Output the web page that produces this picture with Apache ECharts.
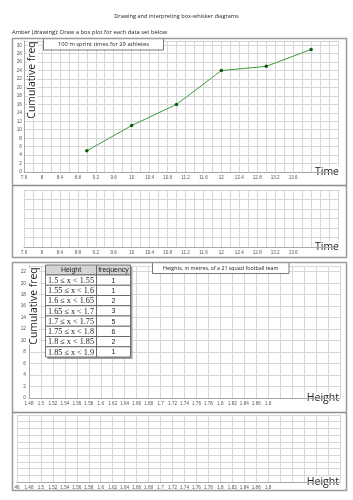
<!DOCTYPE html>
<html>
<head>
<meta charset="utf-8">
<title>Drawing and interpreting box-whisker diagrams</title>
<script src="https://cdn.jsdelivr.net/npm/echarts@6/dist/echarts.min.js"></script>
<style>
  html, body { margin: 0; padding: 0; background: #fff; }
  #chart { width: 353px; height: 500px; }
</style>
</head>
<body>
<div id="chart"></div>
<script>
// 100 m sprint times - cumulative frequency points
const sprintTimes = [9, 10, 11, 12, 13, 14]
const sprintCumFreq = [5, 11, 16, 24, 25, 29]
const timeTicks = [7.6, 8, 8.4, 8.8, 9.2, 9.6, 10, 10.4, 10.8, 11.2, 11.6, 12, 12.4, 12.8, 13.2, 13.6]
const cumFreqTicks = [0, 2, 4, 6, 8, 10, 12, 14, 16, 18, 20, 22, 24, 26, 28, 30]

// heights of the football squad
const heightClasses = ['1.5 ≤ x < 1.55', '1.55 ≤ x < 1.6', '1.6 ≤ x < 1.65', '1.65 ≤ x < 1.7',
  '1.7 ≤ x < 1.75', '1.75 ≤ x < 1.8', '1.8 ≤ x < 1.85', '1.85 ≤ x < 1.9']
const heightFreq = [1, 1, 2, 3, 5, 6, 2, 1]
const heightTickValues = [1.46, 1.48, 1.5, 1.52, 1.54, 1.56, 1.58, 1.6, 1.62, 1.64, 1.66, 1.68,
  1.7, 1.72, 1.74, 1.76, 1.78, 1.8, 1.82, 1.84, 1.86, 1.88]
const heightTickLabels = ['46', '1.48', '1.5', '1.52', '1.54', '1.56', '1.58', '1.6', '1.62', '1.64', '1.66', '1.68',
  '1.7', '1.72', '1.74', '1.76', '1.78', '1.8', '1.82', '1.84', '1.86', '1.8']
const heightCumTicks = [0, 2, 4, 6, 8, 10, 12, 14, 16, 18, 20, 22]

const chart = echarts.init(document.getElementById('chart'), null, { renderer: 'canvas' })

// show a label only where the picture has one
function labelFrom(values, texts) {
  return function (v) {
    for (let i = 0; i < values.length; i++) {
      if (Math.abs(values[i] - v) < 1e-6) return texts ? texts[i] : String(values[i])
    }
    return ''
  }
}

const gridLine = { show: true, lineStyle: { color: '#d6d6d6', width: 1 } }
const axisLineStyle = { show: true, onZero: false, lineStyle: { color: '#a8a8a8', width: 1 } }
const tickFont = { fontSize: 4.6, color: '#555', fontFamily: 'Liberation Sans, Arial, sans-serif' }
const nameFont = { fontSize: 10.5, color: '#222', fontFamily: 'Open Sans, sans-serif', backgroundColor: '#fff', align: 'right', verticalAlign: 'middle', padding: [0, 1, 0, 2] }

function timeAxis(gridIndex) {
  return {
    type: 'value', gridIndex: gridIndex, min: 7.6, max: 14.6, interval: 0.2,
    axisLine: axisLineStyle, axisTick: { show: false }, splitLine: gridLine,
    axisLabel: Object.assign({ margin: 3, formatter: labelFrom(timeTicks), showMinLabel: true, showMaxLabel: true }, tickFont),
    name: 'Time', nameLocation: 'end', nameGap: 2, nameTextStyle: nameFont
  }
}

function heightAxis(gridIndex, min) {
  return {
    type: 'value', gridIndex: gridIndex, min: min, max: 2.0, interval: 0.02,
    axisLine: axisLineStyle, axisTick: { show: false }, splitLine: gridLine,
    axisLabel: Object.assign({ margin: 3, formatter: labelFrom(heightTickValues, heightTickLabels), showMinLabel: true, showMaxLabel: true }, tickFont),
    name: 'Height', nameLocation: 'end', nameGap: 0, nameTextStyle: nameFont
  }
}

function blankY(gridIndex, max) {
  return {
    type: 'value', gridIndex: gridIndex, min: 0, max: max, interval: 1,
    axisLine: { show: false }, axisTick: { show: false }, axisLabel: { show: false },
    splitLine: gridLine
  }
}

// frequency table drawn as graphic cells
function tableGraphic() {
  const x0 = 45.5, y0 = 265, w = [51, 34], headH = 10, rowH = 10.25
  const totalH = headH + rowH * heightClasses.length
  const kids = [
    { type: 'rect', z: 50, shape: { x: x0 + 2, y: y0 + 2, width: w[0] + w[1], height: totalH }, style: { fill: '#a0a0a0' } }
  ]
  const rows = [['Height', 'frequency']].concat(heightClasses.map((c, i) => [c, String(heightFreq[i])]))
  rows.forEach((r, i) => {
    const y = i === 0 ? y0 : y0 + headH + (i - 1) * rowH
    const h = i === 0 ? headH : rowH
    let x = x0
    r.forEach((txt, j) => {
      kids.push({ type: 'rect', z: 51, shape: { x: x, y: y, width: w[j], height: h },
        style: { fill: i === 0 ? '#d4d4d4' : '#fff', stroke: '#555', lineWidth: 0.8 } })
      const serif = i > 0 && j === 0
      kids.push({ type: 'text', z: 52, x: x + w[j] / 2, y: y + h / 2 + 0.5,
        style: { text: txt, align: 'center', verticalAlign: 'middle', fill: '#222',
          fontSize: serif ? 8.2 : 7, fontFamily: serif ? 'Liberation Serif, DejaVu Serif, serif' : 'Liberation Sans, Arial, sans-serif' } })
      x += w[j]
    })
  })
  return { type: 'group', z: 50, children: kids }
}

function labelBox(x, y, width, height, text, size) {
  return { type: 'group', z: 50, children: [
    { type: 'rect', z: 51, shape: { x: x, y: y, width: width, height: height }, style: { fill: '#fff', stroke: '#555', lineWidth: 0.8 } },
    { type: 'text', z: 52, x: x + width / 2, y: y + height / 2 + 0.3,
      style: { text: text, align: 'center', verticalAlign: 'middle', fill: '#222', fontSize: size, fontFamily: 'Open Sans, sans-serif' } }
  ] }
}

function yName(x, y) {
  return { type: 'text', z: 40, x: x, y: y, rotation: Math.PI / 2,
    style: { text: 'Cumulative freq', align: 'center', verticalAlign: 'middle', fill: '#222',
      fontSize: 10.4, fontFamily: 'Open Sans, sans-serif', backgroundColor: '#fff' } }
}

const frame = { fill: 'none', stroke: '#9c9c9c', lineWidth: 1.5 }

const option = {
  animation: false,
  backgroundColor: '#fff',
  grid: [
    { left: 24, top: 41, width: 314, height: 131, containLabel: false, outerBoundsMode: 'none' },
    { left: 24, top: 190, width: 314, height: 57, containLabel: false, outerBoundsMode: 'none' },
    { left: 29, top: 266, width: 311, height: 132, containLabel: false, outerBoundsMode: 'none' },
    { left: 17, top: 415, width: 323, height: 67, containLabel: false, outerBoundsMode: 'none' }
  ],
  xAxis: [timeAxis(0), timeAxis(1), heightAxis(2, 1.48), heightAxis(3, 1.46)],
  yAxis: [
    {
      type: 'value', gridIndex: 0, min: 0, max: 31, interval: 2,
      axisLine: axisLineStyle, axisTick: { show: false }, splitLine: gridLine,
      axisLabel: Object.assign({ margin: 2, formatter: labelFrom(cumFreqTicks), showMaxLabel: true }, tickFont, { fontSize: 4.8 })
    },
    blankY(1, 6),
    {
      type: 'value', gridIndex: 2, min: 0, max: 23, interval: 2,
      axisLine: axisLineStyle, axisTick: { show: false }, splitLine: gridLine,
      axisLabel: Object.assign({ margin: 3, formatter: labelFrom(heightCumTicks), showMaxLabel: true }, tickFont, { fontSize: 4.8 })
    },
    blankY(3, 10)
  ],
  series: [
    {
      type: 'line', xAxisIndex: 0, yAxisIndex: 0,
      data: sprintTimes.map((t, i) => [t, sprintCumFreq[i]]),
      lineStyle: { color: '#3f9b3f', width: 1 },
      symbol: 'circle', symbolSize: 3.5,
      itemStyle: { color: '#0d5c0d', borderWidth: 0 }
    }
  ],
  graphic: [
    { type: 'text', x: 176.5, y: 16, style: { text: 'Drawing and interpreting box-whisker diagrams', align: 'center', verticalAlign: 'middle', fill: '#222', fontSize: 5.6, fontFamily: 'Open Sans, sans-serif' } },
    { type: 'text', x: 12, y: 32, style: { text: 'Amber (drawing): Draw a box plot for each data set below', align: 'left', verticalAlign: 'middle', fill: '#222', fontSize: 5.8, fontFamily: 'Open Sans, sans-serif' } },
    { type: 'rect', z: 60, shape: { x: 12.5, y: 38.5, width: 334, height: 219 }, style: frame },
    { type: 'line', z: 60, shape: { x1: 12.5, y1: 185.5, x2: 346.5, y2: 185.5 }, style: { stroke: '#8c8c8c', lineWidth: 1.5 } },
    { type: 'rect', z: 60, shape: { x: 12.5, y: 262.5, width: 334, height: 228 }, style: frame },
    { type: 'line', z: 60, shape: { x1: 12.5, y1: 412.5, x2: 346.5, y2: 412.5 }, style: { stroke: '#8c8c8c', lineWidth: 1.5 } },
    labelBox(43.5, 38.5, 120, 11.5, '100 m sprint times for 29 athletes', 5.8),
    labelBox(152.5, 262.5, 136.5, 11, 'Heights, in metres, of a 21 squad football team', 5.3),
    tableGraphic(),
    yName(32.5, 80),
    yName(34, 306)
  ]
}

chart.setOption(option)
window.addEventListener('resize', () => chart.resize())
</script>
</body>
</html>
